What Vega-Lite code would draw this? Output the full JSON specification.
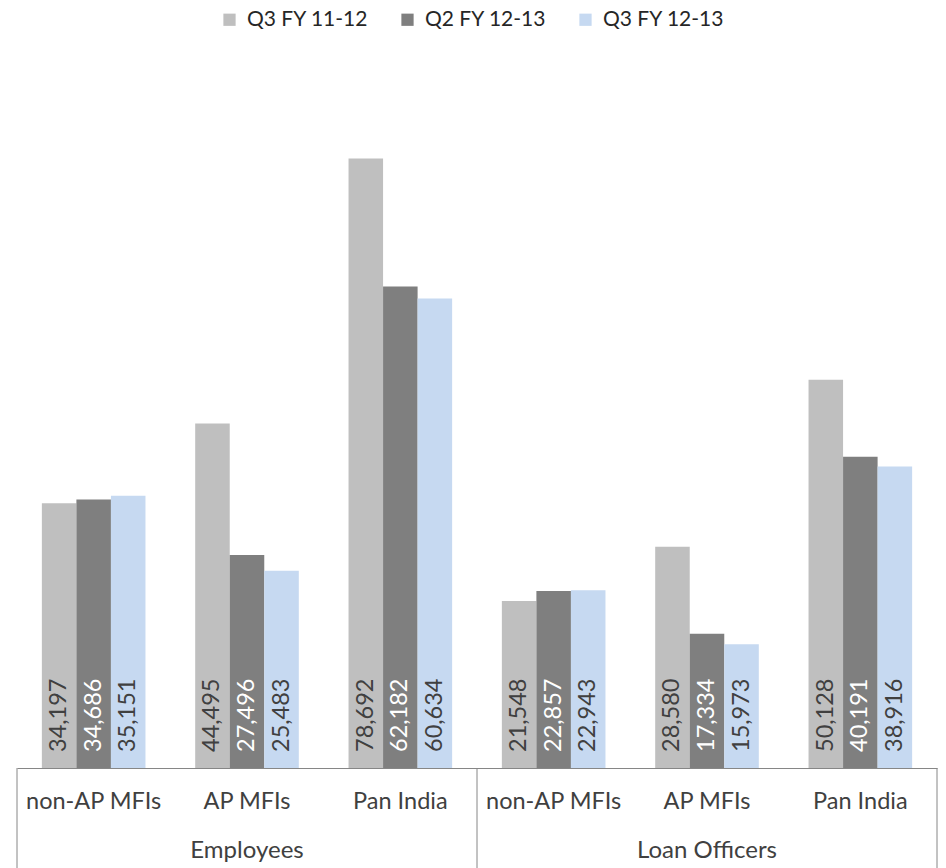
{
  "$schema": "https://vega.github.io/schema/vega-lite/v6.json",
  "width": 920,
  "height": 697,
  "autosize": {"type": "none"},
  "padding": {"left": 17, "top": 71, "right": 9, "bottom": 100},
  "background": "white",
  "config": {
    "view": {"stroke": null},
    "font": "Lato"
  },
  "datasets": {
    "staff": [
      {"cat": "Employees|non-AP MFIs", "series": "Q3 FY 11-12", "value": 34197},
      {"cat": "Employees|non-AP MFIs", "series": "Q2 FY 12-13", "value": 34686},
      {"cat": "Employees|non-AP MFIs", "series": "Q3 FY 12-13", "value": 35151},
      {"cat": "Employees|AP MFIs", "series": "Q3 FY 11-12", "value": 44495},
      {"cat": "Employees|AP MFIs", "series": "Q2 FY 12-13", "value": 27496},
      {"cat": "Employees|AP MFIs", "series": "Q3 FY 12-13", "value": 25483},
      {"cat": "Employees|Pan India", "series": "Q3 FY 11-12", "value": 78692},
      {"cat": "Employees|Pan India", "series": "Q2 FY 12-13", "value": 62182},
      {"cat": "Employees|Pan India", "series": "Q3 FY 12-13", "value": 60634},
      {"cat": "Loan Officers|non-AP MFIs", "series": "Q3 FY 11-12", "value": 21548},
      {"cat": "Loan Officers|non-AP MFIs", "series": "Q2 FY 12-13", "value": 22857},
      {"cat": "Loan Officers|non-AP MFIs", "series": "Q3 FY 12-13", "value": 22943},
      {"cat": "Loan Officers|AP MFIs", "series": "Q3 FY 11-12", "value": 28580},
      {"cat": "Loan Officers|AP MFIs", "series": "Q2 FY 12-13", "value": 17334},
      {"cat": "Loan Officers|AP MFIs", "series": "Q3 FY 12-13", "value": 15973},
      {"cat": "Loan Officers|Pan India", "series": "Q3 FY 11-12", "value": 50128},
      {"cat": "Loan Officers|Pan India", "series": "Q2 FY 12-13", "value": 40191},
      {"cat": "Loan Officers|Pan India", "series": "Q3 FY 12-13", "value": 38916}
    ],
    "groups": [
      {"cat": "Employees|AP MFIs", "group": "Employees"},
      {"cat": "Loan Officers|AP MFIs", "group": "Loan Officers"}
    ],
    "groupStarts": [
      {"cat": "Employees|non-AP MFIs"},
      {"cat": "Loan Officers|non-AP MFIs"}
    ],
    "groupEnds": [
      {"cat": "Loan Officers|Pan India"}
    ]
  },
  "layer": [
    {
      "data": {"name": "staff"},
      "mark": {"type": "bar"},
      "encoding": {
        "x": {
          "field": "cat",
          "type": "nominal",
          "sort": null,
          "scale": {"paddingInner": 0, "paddingOuter": 0},
          "axis": {
            "title": null,
            "labelExpr": "split(datum.label, '|')[1]",
            "labelAngle": 0,
            "labelFontSize": 23.5,
            "labelColor": "#404040",
            "labelPadding": 21,
            "ticks": false,
            "domainColor": "#868686",
            "domainWidth": 1
          }
        },
        "xOffset": {
          "field": "series",
          "type": "nominal",
          "sort": ["Q3 FY 11-12", "Q2 FY 12-13", "Q3 FY 12-13"],
          "scale": {"paddingInner": 0, "paddingOuter": 0.72}
        },
        "y": {
          "field": "value",
          "type": "quantitative",
          "scale": {"domain": [0, 90000], "nice": false},
          "axis": null
        },
        "color": {
          "field": "series",
          "type": "nominal",
          "sort": ["Q3 FY 11-12", "Q2 FY 12-13", "Q3 FY 12-13"],
          "scale": {
            "domain": ["Q3 FY 11-12", "Q2 FY 12-13", "Q3 FY 12-13"],
            "range": ["#BFBFBF", "#7F7F7F", "#C6D9F1"]
          },
          "legend": {
            "title": null,
            "orient": "none",
            "legendX": 202,
            "legendY": -62,
            "direction": "horizontal",
            "symbolType": "square",
            "symbolSize": 150,
            "symbolStrokeWidth": 0,
            "labelFontSize": 21,
            "labelColor": "#262626",
            "labelOffset": 7,
            "columnPadding": 28
          }
        }
      }
    },
    {
      "data": {"name": "staff"},
      "mark": {
        "type": "text",
        "angle": -90,
        "align": "left",
        "baseline": "middle",
        "dx": 16,
        "fontSize": 23.5
      },
      "encoding": {
        "x": {"field": "cat", "type": "nominal", "sort": null},
        "xOffset": {
          "field": "series",
          "type": "nominal",
          "sort": ["Q3 FY 11-12", "Q2 FY 12-13", "Q3 FY 12-13"]
        },
        "y": {"datum": 0, "type": "quantitative"},
        "text": {"field": "value", "type": "quantitative", "format": ","},
        "color": {
          "condition": {"test": "datum.series === 'Q2 FY 12-13'", "value": "white"},
          "value": "#404040"
        }
      }
    },
    {
      "data": {"name": "groups"},
      "mark": {
        "type": "text",
        "fontSize": 24,
        "color": "#404040",
        "baseline": "middle",
        "y": 780
      },
      "encoding": {
        "x": {"field": "cat", "type": "nominal", "sort": null},
        "text": {"field": "group"}
      }
    },
    {
      "data": {"name": "groupStarts"},
      "mark": {"type": "rule", "color": "#868686", "strokeWidth": 1, "y": 697, "y2": 800},
      "encoding": {
        "x": {"field": "cat", "type": "nominal", "sort": null, "bandPosition": 0}
      }
    },
    {
      "data": {"name": "groupEnds"},
      "mark": {"type": "rule", "color": "#868686", "strokeWidth": 1, "y": 697, "y2": 800},
      "encoding": {
        "x": {"field": "cat", "type": "nominal", "sort": null, "bandPosition": 1}
      }
    }
  ]
}
